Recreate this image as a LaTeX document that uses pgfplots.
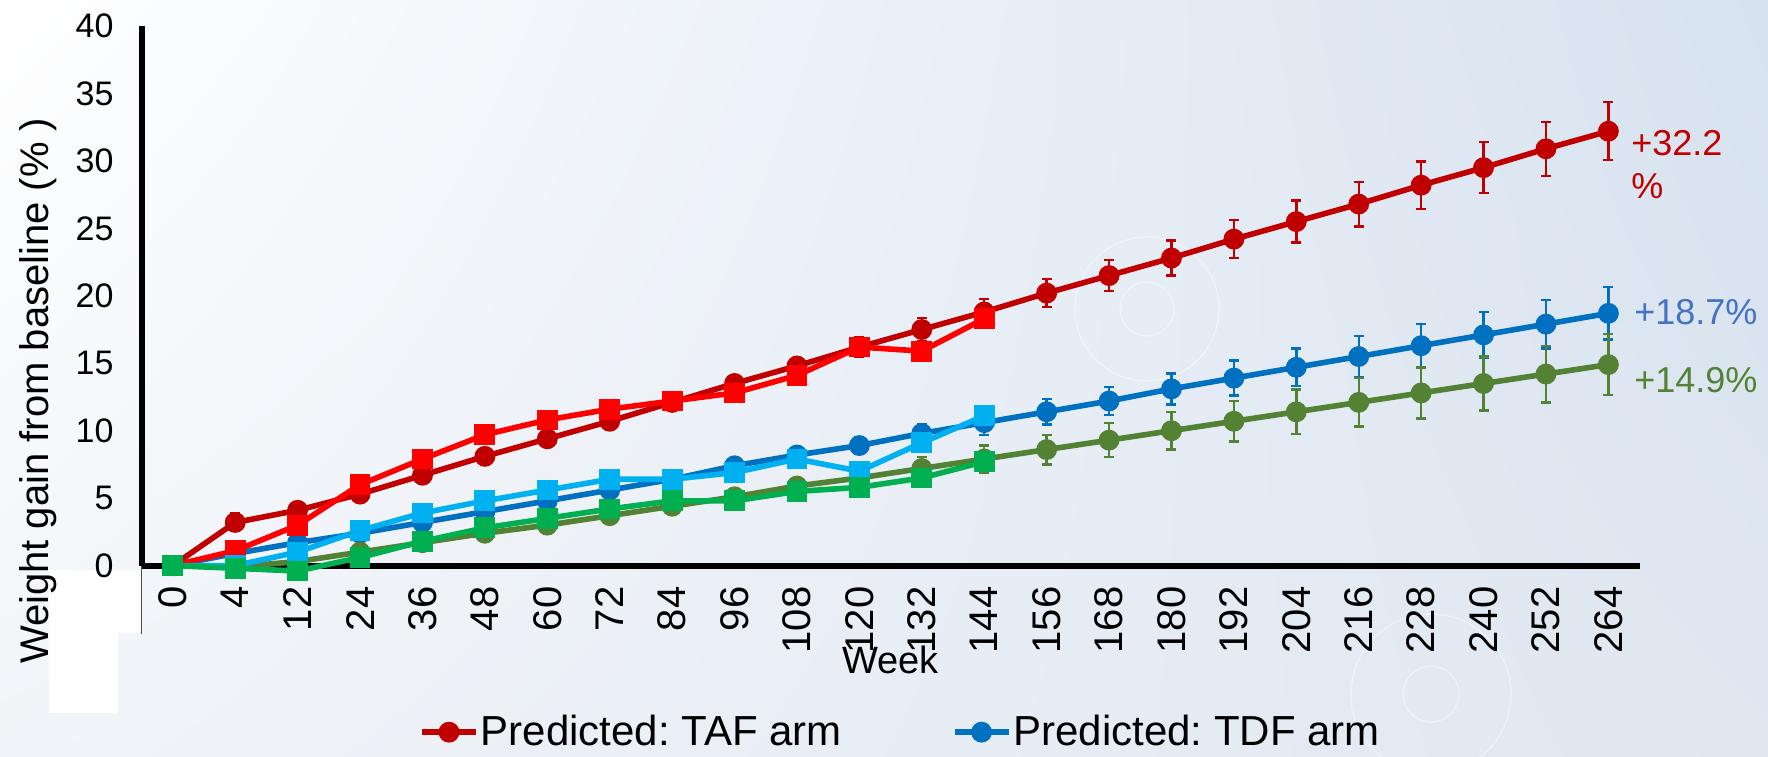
\documentclass[border=0pt]{standalone}
\usepackage{fontspec}
\setmainfont{Liberation Sans}
\usepackage{pgfplots}
\pgfplotsset{compat=1.18}
\usetikzlibrary{shadings}

\definecolor{predTAF}{HTML}{C00000}
\definecolor{obsTAF}{HTML}{FF0000}
\definecolor{predTDF}{HTML}{0070C0}
\definecolor{obsTDF}{HTML}{00B0F0}
\definecolor{predOth}{HTML}{548235}
\definecolor{obsOth}{HTML}{00B050}
\definecolor{lblTDF}{HTML}{4472C4}
\definecolor{bgTR}{HTML}{D6E2EF}
\definecolor{bgBL}{HTML}{F1F4F8}
\definecolor{bgBR}{HTML}{DFE7F1}

\pgfplotsset{
  pred/.style={line width=2.8pt, mark=*, mark size=3.8pt, mark options={solid},
    error bars/y dir=both, error bars/y explicit,
    error bars/error bar style={line width=1.2pt},
    error bars/error mark options={rotate=90, mark size=2.5pt, line width=1.2pt}},
  obs/.style={line width=2.8pt, mark=square*, mark size=3.8pt, mark options={solid}},
}

\begin{document}
\frenchspacing
\begin{tikzpicture}
% page frame and slide background
\path[use as bounding box] (-70.8pt,-95.2pt) rectangle (813.2pt,282.8pt);
\clip (-70.8pt,-95.2pt) rectangle (813.2pt,282.8pt);
\shade[upper left=white, upper right=bgTR, lower left=bgBL, lower right=bgBR]
  (-70.8pt,-95.2pt) rectangle (813.2pt,282.8pt);
\fill[white] (-46.3pt,-33.7pt) rectangle (0pt,-2.2pt);
\fill[white] (-46.3pt,-73.7pt) rectangle (-11.8pt,-33.7pt);
% faint decorative rings
\begin{scope}[white, opacity=0.4, line width=0.8pt]
  \draw (502.7pt,128.3pt) circle (13.5pt);
  \draw (502.7pt,128.3pt) circle (36pt);
  \draw (644.7pt,-64.2pt) circle (14pt);
  \draw (644.7pt,-64.2pt) circle (40pt);
\end{scope}
\draw[black!70, line width=0.8pt] (0pt,0pt) -- (0pt,-34pt);

\begin{axis}[
  at={(0pt,0pt)}, anchor=south west,
  scale only axis, width=749pt, height=269.8pt,
  xmin=-0.5, xmax=23.5, ymin=0, ymax=40,
  clip=false,
  axis x line=bottom, axis y line=left,
  axis line style={-, line width=3pt, black},
  xtick={0,...,23},
  xticklabels={0,4,12,24,36,48,60,72,84,96,108,120,132,144,156,168,180,192,204,216,228,240,252,264},
  ytick={0,5,...,40},
  major tick length=0pt,
  /pgf/number format/assume math mode=true,
  xticklabel style={rotate=90, anchor=east, font=\fontsize{20}{20}\selectfont},
  xticklabel shift=7pt,
  yticklabel style={font=\fontsize{17}{17}\selectfont},
  yticklabel shift=10.5pt,
  xlabel={Week},
  xlabel style={at={(axis description cs:0.5,-0.175)}, anchor=center, font=\fontsize{19}{19}\selectfont},
  ylabel={Weight gain from baseline (\% )},
  ylabel style={at={(axis description cs:-0.069,0.324)}, anchor=center, font=\fontsize{20}{20}\selectfont},
  legend columns=2,
  legend style={at={(axis description cs:0.5066,-0.3087)}, anchor=center, draw=none, fill=none,
    font=\fontsize{21}{21}\selectfont, nodes={inner xsep=1pt},
    /tikz/every even column/.append style={column sep=54pt}},
  legend image code/.code={\draw[mark repeat=2, mark phase=2, #1]
    plot coordinates {(0pt,0pt) (13.5pt,0pt) (27pt,0pt)};},
]

% model predictions with 95% intervals
\addplot[pred, color=predTAF] coordinates {
  (0,0) +- (0,0)       (1,3.2) +- (0,0.65)  (2,4.1) +- (0,0.6)   (3,5.3) +- (0,0.5)
  (4,6.7) +- (0,0.45)  (5,8.1) +- (0,0.4)   (6,9.4) +- (0,0.4)   (7,10.7) +- (0,0.4)
  (8,12.1) +- (0,0.4)  (9,13.5) +- (0,0.45) (10,14.8) +- (0,0.55) (11,16.2) +- (0,0.7)
  (12,17.5) +- (0,0.85) (13,18.8) +- (0,0.95) (14,20.2) +- (0,1.05) (15,21.5) +- (0,1.15)
  (16,22.8) +- (0,1.3) (17,24.2) +- (0,1.4) (18,25.5) +- (0,1.55) (19,26.8) +- (0,1.65)
  (20,28.2) +- (0,1.75) (21,29.5) +- (0,1.9) (22,30.9) +- (0,2.0) (23,32.2) +- (0,2.15)
};
\addlegendentry{Predicted: TAF arm}

\addplot[pred, color=predTDF] coordinates {
  (0,0) +- (0,0)       (1,0.9) +- (0,0.4)   (2,1.7) +- (0,0.5)   (3,2.4) +- (0,0.4)
  (4,3.2) +- (0,0.35)  (5,4.0) +- (0,0.35)  (6,4.8) +- (0,0.35)  (7,5.6) +- (0,0.35)
  (8,6.4) +- (0,0.35)  (9,7.4) +- (0,0.35)  (10,8.2) +- (0,0.45) (11,8.9) +- (0,0.6)
  (12,9.8) +- (0,0.7)  (13,10.6) +- (0,0.9) (14,11.4) +- (0,0.95) (15,12.2) +- (0,1.05)
  (16,13.1) +- (0,1.15) (17,13.9) +- (0,1.3) (18,14.7) +- (0,1.4) (19,15.5) +- (0,1.5)
  (20,16.3) +- (0,1.6) (21,17.1) +- (0,1.7) (22,17.9) +- (0,1.8) (23,18.7) +- (0,1.95)
};
\addlegendentry{Predicted: TDF arm}

\addplot[pred, color=predOth, forget plot] coordinates {
  (0,0) +- (0,0)       (1,-0.1) +- (0,0.7)  (2,0.3) +- (0,0.5)   (3,1.0) +- (0,0.5)
  (4,1.7) +- (0,0.4)   (5,2.4) +- (0,0.4)   (6,3.0) +- (0,0.4)   (7,3.7) +- (0,0.4)
  (8,4.4) +- (0,0.4)   (9,5.1) +- (0,0.45)  (10,5.9) +- (0,0.55) (11,6.5) +- (0,0.7)
  (12,7.2) +- (0,0.85) (13,7.9) +- (0,1.0)  (14,8.6) +- (0,1.1)  (15,9.3) +- (0,1.25)
  (16,10.0) +- (0,1.4) (17,10.7) +- (0,1.5) (18,11.4) +- (0,1.65) (19,12.1) +- (0,1.8)
  (20,12.8) +- (0,1.9) (21,13.5) +- (0,2.0) (22,14.2) +- (0,2.1) (23,14.9) +- (0,2.25)
};

% observed means
\addplot[obs, color=obsTAF, forget plot] coordinates {
  (0,0) (1,1.1) (2,3.0) (3,6.0) (4,7.9) (5,9.7) (6,10.8) (7,11.6)
  (8,12.2) (9,12.8) (10,14.1) (11,16.2) (12,15.9) (13,18.3)
};
\addplot[obs, color=obsTDF, forget plot] coordinates {
  (0,0) (1,0.0) (2,1.0) (3,2.6) (4,3.9) (5,4.8) (6,5.6) (7,6.4)
  (8,6.4) (9,6.9) (10,7.9) (11,7.0) (12,9.1) (13,11.1)
};
\addplot[obs, color=obsOth, forget plot] coordinates {
  (0,0) (1,-0.2) (2,-0.4) (3,0.6) (4,1.8) (5,2.8) (6,3.5) (7,4.2)
  (8,4.8) (9,4.8) (10,5.5) (11,5.8) (12,6.5) (13,7.7)
};

% end-of-projection labels
\node[anchor=west, inner sep=0pt, text=predTAF, font=\fontsize{18}{18}\selectfont] at (axis cs:23.36,31.35) {+32.2};
\node[anchor=west, inner sep=0pt, text=predTAF, font=\fontsize{18}{18}\selectfont] at (axis cs:23.36,28.15) {\%};
\node[anchor=west, inner sep=0pt, text=lblTDF, font=\fontsize{18}{18}\selectfont] at (axis cs:23.41,18.78) {+18.7\%};
\node[anchor=west, inner sep=0pt, text=predOth, font=\fontsize{18}{18}\selectfont] at (axis cs:23.41,13.73) {+14.9\%};
\end{axis}
\end{tikzpicture}
\end{document}
